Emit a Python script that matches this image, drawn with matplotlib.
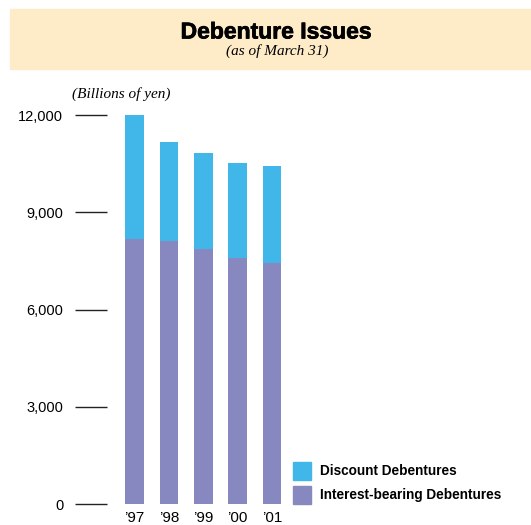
import numpy as np
import matplotlib
matplotlib.use("Agg")
import matplotlib.pyplot as plt
import matplotlib.patheffects as pe
from matplotlib.patches import Rectangle

# ---- data (billions of yen, as of March 31) ----
years = ["\u201997", "\u201998", "\u201999", "\u201900", "\u201901"]
interest_bearing = [8170, 8110, 7870, 7590, 7430]
discount = [3830, 3060, 2960, 2930, 2990]
y_ticks = [0, 3000, 6000, 9000, 12000]
y_tick_labels = ["0", "3,000", "6,000", "9,000", "12,000"]

C_DISC = "#41B6E9"
C_INT = "#8788BF"
C_BAND = "#FEEBC8"

W, H = 531, 525
fig = plt.figure(figsize=(W / 100, H / 100), dpi=100)

def px(x0, y0, x1, y1):
    # pixel box (top-left origin) -> figure fraction rect
    return [x0 / W, 1 - y1 / H, (x1 - x0) / W, (y1 - y0) / H]

# header band
fig.patches.append(Rectangle((10 / W, 1 - 69 / H), (W - 10) / W, 60 / H,
                             transform=fig.transFigure, color=C_BAND, zorder=0))
fig.text(276 / W, 1 - 32 / H, "Debenture Issues", ha="center", va="center",
         fontsize=16.5, fontweight="bold", family="Liberation Sans",
         path_effects=[pe.withStroke(linewidth=0.5, foreground="black")])
fig.text(277 / W, 1 - 51 / H, "(as of March 31)", ha="center", va="center",
         fontsize=11, style="italic", family="Liberation Serif")

ax = fig.add_axes(px(107, 115, 300, 504))
x = np.arange(len(years))
ax.bar(x, interest_bearing, width=0.54, color=C_INT)
ax.bar(x, discount, width=0.54, bottom=interest_bearing, color=C_DISC)

ax.set_xlim(-0.8, 4.81)
ax.set_ylim(0, 12000)
for s in ax.spines.values():
    s.set_visible(False)
ax.set_yticks(y_ticks)
ax.set_yticklabels(y_tick_labels, family="Liberation Sans", fontsize=10.5)
ax.tick_params(axis="y", length=23, width=1.0, pad=8.5, color="#222222")
ax.set_xticks(x)
ax.set_xticklabels(years, family="Liberation Sans", fontsize=11)
ax.tick_params(axis="x", length=0, pad=5)

fig.text(72 / W, 1 - 94 / H, "(Billions of yen)", ha="left", va="center",
         fontsize=11, style="italic", family="Liberation Serif")

# legend
for (y0, c, lab) in [(462, C_DISC, "Discount Debentures"),
                     (486, C_INT, "Interest-bearing Debentures")]:
    fig.patches.append(Rectangle((293 / W, 1 - (y0 + 18) / H), 18 / W, 18 / H,
                                 transform=fig.transFigure, color=c))
    fig.text(320 / W, 1 - (y0 + 9) / H, lab, ha="left", va="center",
             fontsize=9.8, fontweight="bold", family="Liberation Sans")

fig.savefig("out.png", dpi=100)
